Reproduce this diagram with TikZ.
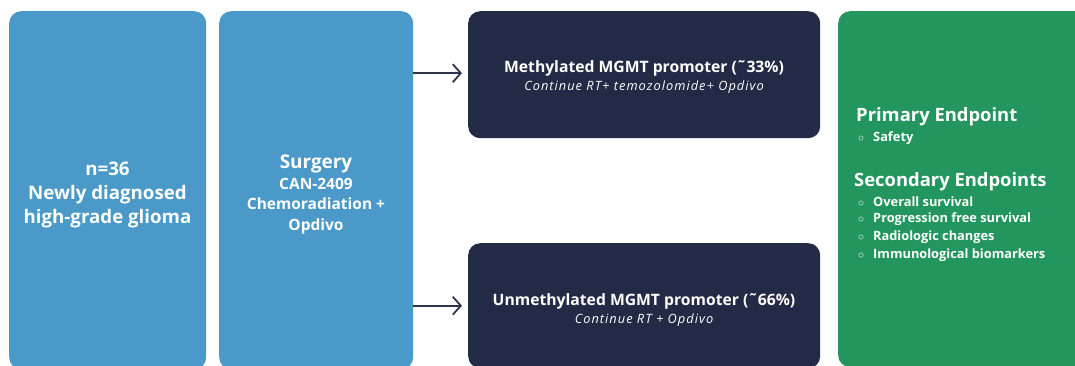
\documentclass[tikz,border=0pt]{standalone}
\usepackage{fontspec}
\setmainfont{Open Sans}
\usetikzlibrary{arrows.meta,positioning}
\definecolor{cblue}{HTML}{4A99C8}
\definecolor{cnavy}{HTML}{232A45}
\definecolor{cgreen}{HTML}{22965E}
\definecolor{carrow}{HTML}{2E3450}
\tikzset{
  box/.style={rectangle, rounded corners=12pt, inner sep=0pt, anchor=north west},
  bluebox/.style={box, fill=cblue},
  navybox/.style={box, fill=cnavy},
  greenbox/.style={box, fill=cgreen},
  txt/.style={text=white, align=center, inner sep=0pt},
  ttitle/.style={txt, font=\fontsize{15.7}{19}\selectfont\bfseries},
  tsub/.style={txt, font=\fontsize{12.8}{15}\selectfont\itshape\addfontfeature{LetterSpace=8}},
  arr/.style={draw=carrow, line width=1.8pt, -{Straight Barb[length=8pt,width=18pt,line width=1.8pt]}, shorten >=6pt},
  gtitle/.style={anchor=west, text=white, inner sep=0pt, font=\fontsize{18.4}{20}\selectfont\bfseries},
  gitem/.style={anchor=west, text=white, inner sep=0pt, font=\fontsize{12.8}{14}\selectfont\bfseries},
}
\newcommand{\bul}{\makebox[16pt][l]{\hspace{1pt}$\circ$}}
\begin{document}
\begin{tikzpicture}[x=1pt,y=-1pt]
\fill[white] (0,0) rectangle (1075,365);
\useasboundingbox (0,0) rectangle (1075,365);
\node[bluebox, minimum width=197pt, minimum height=358pt] (n) at (9,11) {};
\node[txt, font=\fontsize{18.7}{24}\selectfont\bfseries] (nt) at (107.5,195)
  {n=36\\Newly diagnosed\\high-grade glioma};
\node[bluebox, minimum width=194pt, minimum height=358pt] (s) at (219,11) {};
\node[txt, font=\fontsize{15.5}{20.7}\selectfont\bfseries] (st) at (316,194.5)
  {{\fontsize{18.9}{20.7}\selectfont Surgery}\\CAN-2409\\Chemoradiation +\\Opdivo};
\node[navybox, minimum width=352pt, minimum height=127pt] (m) at (468,11) {};
\node[ttitle] (mt) at (644,68) {Methylated MGMT promoter (˜33\%)};
\node[tsub] (ms) at (644,87) {Continue RT+ temozolomide+ Opdivo};
\node[navybox, minimum width=352pt, minimum height=125pt] (u) at (468,243) {};
\node[ttitle] (ut) at (644,301) {Unmethylated MGMT promoter (˜66\%)};
\node[tsub] (us) at (644,320) {Continue RT + Opdivo};
\node[greenbox, minimum width=250pt, minimum height=356pt] (g) at (838,11) {};
\node[gtitle] (p) at (856,117) {Primary Endpoint};
\node[gitem] (p1) at (857,138) {\bul Safety};
\node[gtitle] (q) at (854,182) {Secondary Endpoints};
\node[gitem] (q1) at (857,201.5) {\bul Overall survival};
\node[gitem] (q2) at (857,219.5) {\bul Progression free survival};
\node[gitem] (q3) at (857,237.5) {\bul Radiologic changes};
\node[gitem] (q4) at (857,255.5) {\bul Immunological biomarkers};
\draw[arr] ([yshift=1.5pt]s.east |- m.west) -- ([yshift=1.5pt]m.west);
\draw[arr] (s.east |- u.west) -- (u.west);
\end{tikzpicture}
\end{document}
